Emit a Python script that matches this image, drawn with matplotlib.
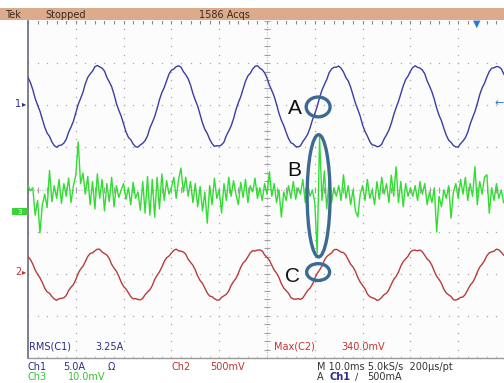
import numpy as np
import matplotlib
matplotlib.use('Agg')
import matplotlib.pyplot as plt
from matplotlib.patches import Ellipse, Rectangle

t_ms = np.arange(0, 100.5, 0.5)        # sample times, ms (10 ms/div)
ch1_amps = [3.28, 2.70, 1.86, 0.80, 0.02, -0.70, -1.65, -2.60, -3.30, -3.70,
            -4.35, -4.80, -4.98, -4.78, -4.72, -4.50, -4.05, -3.20, -2.58, -1.90,
            -0.90, 0.10, 0.80, 1.55, 2.56, 3.30, 3.72, 4.05, 4.58, 4.72,
            4.55, 4.40, 4.06, 3.30, 2.78, 2.20, 1.30, 0.20, -0.60, -1.30,
            -2.22, -3.15, -3.80, -4.10, -4.60, -4.92, -4.98, -4.70, -4.52, -4.20,
            -3.63, -2.70, -2.05, -1.35, -0.40, 0.65, 1.50, 2.10, 2.92, 3.70,
            4.16, 4.30, 4.58, 4.68, 4.52, 4.00, 3.62, 3.15, 2.40, 1.40,
            0.60, -0.10, -1.10, -2.10, -2.86, -3.35, -4.02, -4.55, -4.88, -4.80,
            -4.84, -4.70, -4.37, -3.60, -3.06, -2.45, -1.60, -0.55, 0.30, 1.00,
            1.93, 2.85, 3.48, 3.80, 4.30, 4.62, 4.70, 4.40, 4.22, 3.85,
            3.24, 2.40, 1.75, 1.05, 0.10, -0.95, -1.78, -2.40, -3.22, -3.95,
            -4.45, -4.60, -4.90, -4.95, -4.82, -4.30, -3.92, -3.45, -2.70, -1.75,
            -1.00, -0.15, 0.90, 1.80, 2.45, 3.05, 3.86, 4.30, 4.50, 4.52,
            4.65, 4.40, 3.95, 3.30, 2.88, 2.15, 1.18, 0.25, -0.50, -1.30,
            -2.35, -3.10, -3.66, -4.30, -4.70, -4.75, -4.92, -4.88, -4.62, -4.00,
            -3.52, -2.95, -2.16, -1.15, -0.30, 0.45, 1.38, 2.30, 3.04, 3.45,
            4.05, 4.48, 4.68, 4.50, 4.42, 4.18, 3.74, 2.90, 2.28, 1.60,
            0.70, -0.35, -1.20, -1.85, -2.74, -3.55, -4.14, -4.40, -4.78, -4.95,
            -4.95, -4.55, -4.25, -3.85, -3.20, -2.25, -1.48, -0.75, 0.20, 1.25,
            2.05, 2.60, 3.36, 4.00, 4.40, 4.45, 4.60, 4.55, 4.34, 3.75,
            3.30]
ch2_mv = [201, 170, 115, 45, -5, -48, -104, -172, -215, -232,
          -270, -300, -315, -296, -292, -285, -258, -198, -160, -128,
          -70, 5, 56, 90, 145, 205, 240, 248, 272, 292,
          290, 258, 240, 222, 180, 112, 68, 30, -30, -100,
          -152, -180, -226, -272, -298, -295, -305, -310, -292, -248,
          -218, -190, -140, -68, -18, 22, 80, 146, 190, 210,
          246, 278, 292, 272, 268, 258, 232, 172, 135, 100,
          45, -28, -80, -115, -170, -228, -264, -272, -296, -312,
          -312, -280, -262, -244, -204, -138, -92, -55, 6, 76,
          128, 155, 202, 248, 274, 270, 280, 284, 270, 224,
          195, 160, 102, 44, 8, -45, -116, -170, -200, -232,
          -282, -300, -302, -295, -305, -286, -244, -198, -172, -125,
          -55, 5, 44, 92, 160, 204, 226, 246, 284, 290,
          276, 256, 252, 220, 166, 112, 80, 28, -44, -100,
          -138, -178, -240, -272, -285, -294, -316, -308, -280, -248,
          -232, -190, -126, -68, -32, 20, 92, 145, 176, 208,
          258, 278, 280, 272, 282, 260, 220, 175, 150, 100,
          30, -30, -68, -115, -184, -228, -250, -270, -308, -312,
          -300, -280, -276, -244, -190, -136, -104, -52, 20, 78,
          114, 155, 215, 248, 260, 268, 292, 284, 256, 222,
          205]
t3_ms = np.arange(0, 100, 0.5)
ch3_mv = [6.0, 4.8, 5.5, -1.0, 2.5, -5.2, 1.5, 4.0, 0.8, 9.6,
          2.2, 6.0, 3.0, 7.5, 1.8, 6.5, 3.5, 7.8, 2.0, 6.0,
          8.5, 16.4, 6.5, 9.0, 4.0, 8.2, 1.5, 7.0, 0.5, 8.8,
          3.0, 7.5, 0.0, 6.5, 2.2, 8.0, 1.0, 6.0, 3.2, 5.0,
          6.5, 2.8, 5.5, 1.5, 6.8, 3.0, 4.5, 0.2, 7.0, -0.5,
          8.2, -1.0, 7.5, -1.5, 8.0, 0.5, 8.8, 2.5, 7.2, 4.0,
          5.5, 8.0, 3.0, 7.5, 10.2, 4.5, 8.0, 3.5, 7.0, 2.0,
          6.5, 1.0, 5.8, 0.0, 4.5, -2.9, 6.0, 1.5, 7.8, 3.0,
          5.0, -0.5, 6.5, 2.5, 8.0, 3.5, 7.2, 4.0, 1.5, 6.8,
          3.2, 7.5, 2.0, 6.0, 4.5, 7.8, 3.0, 5.5, 2.5, 6.5,
          4.0, 9.3, 3.5, 6.5, 2.0, 5.0, -1.4, 4.5, 2.5, 6.0,
          3.0, 7.0, 2.8, 5.5, 4.0, 7.5, 2.0, 6.5, 3.5, 5.0,
          2.0, -10.0, 17.4, 2.5, 9.5, 0.5, 7.5, 2.0, 5.5, 3.5,
          6.0, 2.5, 8.6, 3.0, 6.0, 1.5, 5.0, 0.0, -1.4, 4.0,
          6.0, 2.5, 7.5, 3.0, 5.0, 1.5, 7.0, 2.8, 8.0, 4.0,
          6.5, 2.0, 8.5, 3.5, 10.5, 2.0, 7.0, 1.0, 6.5, 3.5,
          5.5, 3.5, 6.0, 2.5, 7.0, 4.0, 6.5, 1.5, 4.5, 2.0,
          5.5, -5.0, 3.5, 1.0, 5.0, 3.0, 6.0, -1.7, 4.5, 6.5,
          3.0, 7.5, 4.0, 8.0, 2.5, 6.5, 3.5, 10.5, 1.5, 7.0,
          4.0, 8.0, 8.6, -0.5, 5.5, 2.5, 6.5, 3.0, 5.0, 2.0]

ch1_scale, ch1_pos = 5.0, 2.0      # A/div, div
ch2_scale, ch2_pos = 500.0, -2.0   # mV/div, div
ch3_scale, ch3_pos = 10.0, -0.51   # mV/div, div
event_ms = 60.7

# ---------------- figure ----------------
W, H = 504, 383
fig = plt.figure(figsize=(W / 100, H / 100), dpi=100)
fig.patch.set_facecolor('white')
FONT = ['DejaVu Sans']

top_px, bot_px, left_px, div_px = 21, 358, 28, 47.8
ax = fig.add_axes([left_px / W, 1 - bot_px / H, 10 * div_px / W, (bot_px - top_px) / H])
ax.set_xlim(0, 100)
ax.set_ylim(-4, 4)
ax.set_facecolor('#fbfcfb')
ax.set_xticks([]); ax.set_yticks([])
for s in ['top', 'right']:
    ax.spines[s].set_visible(False)
ax.spines['left'].set_color('#6a6a7a'); ax.spines['left'].set_linewidth(1.2)
ax.spines['bottom'].set_color('#9a9a9a'); ax.spines['bottom'].set_linewidth(1.0)

gcol = '#a8a8a8'
yminor = np.arange(-4, 4.01, 0.2)
xminor = np.arange(0, 100.01, 2)
for gx in range(10, 101, 10):
    if gx == 50:
        continue
    ax.plot(np.full_like(yminor, gx), yminor, ls='none', marker='s', ms=0.9, mew=0, color=gcol)
for gy in range(-3, 4):
    if gy == 0:
        continue
    ax.plot(xminor, np.full_like(xminor, gy), ls='none', marker='s', ms=0.9, mew=0, color=gcol)
# border ticks
ax.plot(xminor, np.full_like(xminor, 3.97), ls='none', marker='|', ms=2.5, mew=0.8, color='#8a8a8a')
ax.plot(xminor, np.full_like(xminor, -3.97), ls='none', marker='|', ms=2.0, mew=0.6, color='#b0b0b0')
# center crosshair
ax.axvline(50, color='#b8b8b8', lw=0.8, ls=(0, (1, 1.5)))
ax.axhline(0, color='#b8b8b8', lw=0.8, ls=(0, (1, 1.5)))
ax.plot(np.full_like(yminor, 50), yminor, ls='none', marker='_', ms=5, mew=0.8, color='#a0a0a0')
ax.plot(xminor, np.zeros_like(xminor), ls='none', marker='|', ms=5, mew=0.8, color='#a0a0a0')

# traces
ax.plot(t3_ms, np.array(ch3_mv) / ch3_scale + ch3_pos, color='#33dc33', lw=1.0, zorder=3)
ax.plot(t_ms, np.array(ch1_amps) / ch1_scale + ch1_pos, color='#3c3ca6', lw=1.0, zorder=3)
ax.plot(t_ms, np.array(ch2_mv) / ch2_scale + ch2_pos, color='#b83c3c', lw=1.0, zorder=3)

# annotation ellipses and labels
ecol = '#3d6a93'
ax.add_patch(Ellipse((event_ms, ch1_pos - 0.04), 5.0, 0.47, fill=False, ec=ecol, lw=2.4, zorder=5))
ax.add_patch(Ellipse((event_ms + 0.1, -0.15), 4.8, 2.9, fill=False, ec=ecol, lw=2.4, zorder=5))
ax.add_patch(Ellipse((event_ms, ch2_pos + 0.04), 4.8, 0.40, fill=False, ec=ecol, lw=2.4, zorder=5))
lab_font = ['Liberation Sans', 'DejaVu Sans']
ax.text(event_ms - 4.8, ch1_pos - 0.07, 'A', fontsize=15, family=lab_font, color='#111111', ha='center', va='center', zorder=6)
ax.text(event_ms - 5.1, 0.46, 'B', fontsize=15, family=lab_font, color='#111111', ha='center', va='center', zorder=6)
ax.text(event_ms - 5.3, ch2_pos - 0.07, 'C', fontsize=15, family=lab_font, color='#111111', ha='center', va='center', zorder=6)

# measurement readouts inside the graticule
navy, red, green = '#2b2b8c', '#c03434', '#33c233'
ax.text(0.2, -3.85, 'RMS(C1)', fontsize=7, family=FONT, color=navy, va='bottom')
ax.text(14, -3.85, '3.25A', fontsize=7, family=FONT, color=navy, va='bottom')
ax.text(51.5, -3.85, 'Max(C2)', fontsize=7, family=FONT, color=red, va='bottom')
ax.text(65.5, -3.85, '340.0mV', fontsize=7, family=FONT, color=red, va='bottom')

# header bar
fig.patches.append(Rectangle((0, 1 - 20 / H), 1, 12 / H, transform=fig.transFigure,
                             facecolor='#dcab8c', edgecolor='none', zorder=0))
hy = 1 - 14.5 / H
fig.text(5 / W, hy, 'Tek', fontsize=7, family=FONT, color='#3a2a22', va='center')
fig.text(45 / W, hy, 'Stopped', fontsize=7, family=FONT, color='#3a2a22', va='center')
fig.text(250 / W, hy, '1586 Acqs', fontsize=7, family=FONT, color='#3a2a22', va='center', ha='right')

# trigger markers
fig.text(477 / W, 1 - 24 / H, '\u25BC', fontsize=7, color='#2a78d8', ha='center', va='center')
fig.text(499 / W, 1 - 103 / H, '\u2190', fontsize=8, color='#2a78d8', ha='center', va='center')

# channel ground markers
fig.text(18 / W, 1 - 104 / H, '1', fontsize=7, family=FONT, color=navy, ha='center', va='center')
fig.text(24.5 / W, 1 - 104 / H, '\u25B8', fontsize=6, color=navy, ha='center', va='center')
fig.text(18 / W, 1 - 272 / H, '2', fontsize=7, family=FONT, color=red, ha='center', va='center')
fig.text(24.5 / W, 1 - 272 / H, '\u25B8', fontsize=6, color=red, ha='center', va='center')
fig.patches.append(Rectangle((12 / W, 1 - 215 / H), 16 / W, 7 / H, transform=fig.transFigure,
                             facecolor='#3ad23a', edgecolor='none'))
fig.text(20 / W, 1 - 211.5 / H, '3', fontsize=5, family=FONT, color='white', ha='center', va='center')

# bottom status lines
r1 = 1 - 366.5 / H
r2 = 1 - 377.5 / H
fig.text(28 / W, r1, 'Ch1', fontsize=7, family=FONT, color=navy, va='center')
fig.text(63 / W, r1, '5.0A', fontsize=7, family=FONT, color=navy, va='center')
fig.text(108 / W, r1, '\u03A9', fontsize=7, family=FONT, color=navy, va='center')
fig.text(172 / W, r1, 'Ch2', fontsize=7, family=FONT, color=red, va='center')
fig.text(210 / W, r1, '500mV', fontsize=7, family=FONT, color=red, va='center')
fig.text(28 / W, r2, 'Ch3', fontsize=7, family=FONT, color=green, va='center')
fig.text(68 / W, r2, '10.0mV', fontsize=7, family=FONT, color=green, va='center')
fig.text(317 / W, r1, 'M 10.0ms 5.0kS/s  200\u00B5s/pt', fontsize=7, family=FONT, color='#333333', va='center')
fig.text(317 / W, r2, 'A', fontsize=7, family=FONT, color='#333333', va='center')
fig.text(329 / W, r2, 'Ch1', fontsize=7, family=FONT, color=navy, va='center', fontweight='bold')
fig.text(355 / W, r2, '\u2215', fontsize=7, family=FONT, color='#333333', va='center')
fig.text(367 / W, r2, '500mA', fontsize=7, family=FONT, color='#333333', va='center')

fig.savefig('out.png', dpi=100)
